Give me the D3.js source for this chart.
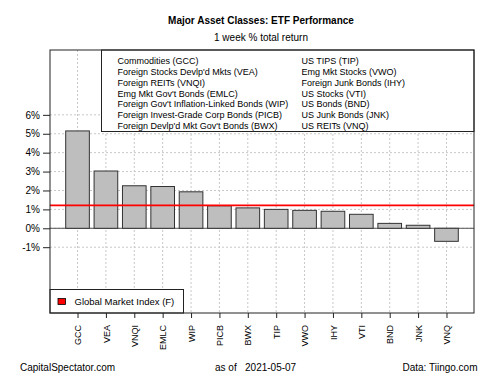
<!DOCTYPE html>
<html><head><meta charset="utf-8">
<script src="https://cdn.jsdelivr.net/npm/d3@7"></script>
<style>body{margin:0;background:#fff}svg{display:block}text{font-family:"Liberation Sans",Arial,sans-serif;fill:#000}</style>
</head><body>
<script>
const tickers = ["GCC","VEA","VNQI","EMLC","WIP","PICB","BWX","TIP","VWO","IHY","VTI","BND","JNK","VNQ"];
const returns = [5.15, 3.03, 2.25, 2.21, 1.93, 1.19, 1.08, 1.00, 0.95, 0.90, 0.74, 0.26, 0.16, -0.69];
const globalMarket = 1.21;
const yTicks = [-1, 0, 1, 2, 3, 4, 5, 6];
const legendLeft = ["Commodities (GCC)","Foreign Stocks Devlp'd Mkts (VEA)","Foreign REITs (VNQI)","Emg Mkt Gov't Bonds (EMLC)","Foreign Gov't Inflation-Linked Bonds (WIP)","Foreign Invest-Grade Corp Bonds (PICB)","Foreign Devlp'd Mkt Gov't Bonds (BWX)"];
const legendRight = ["US TIPS (TIP)","Emg Mkt Stocks (VWO)","Foreign Junk Bonds (IHY)","US Stocks (VTI)","US Bonds (BND)","US Junk Bonds (JNK)","US REITs (VNQ)"];

const W = 500, H = 375;
const L = 50, R = 474, T = 50, B = 313;
const svg = d3.select("body").append("svg").attr("width", W).attr("height", H);

const x = d3.scaleLinear().domain([-0.464, 17.464]).range([L, R]);
const y = d3.scaleLinear().domain([-4.48, 9.43]).range([B, T]);
const center = i => 0.7 + i * 1.2;

// grid
const g = svg.append("g");
g.selectAll(".hg").data(yTicks).join("line")
  .attr("x1", L).attr("x2", R).attr("y1", d => y(d)).attr("y2", d => y(d))
  .attr("stroke", "#c8c8c8").attr("stroke-dasharray", "2,2").attr("stroke-width", 1);
g.selectAll(".vg").data(tickers).join("line")
  .attr("x1", (d, i) => x(center(i))).attr("x2", (d, i) => x(center(i)))
  .attr("y1", T).attr("y2", B)
  .attr("stroke", "#c8c8c8").attr("stroke-dasharray", "2,2").attr("stroke-width", 1);

// zero line
svg.append("line").attr("x1", L).attr("x2", R).attr("y1", y(0)).attr("y2", y(0))
  .attr("stroke", "#555").attr("stroke-width", 1);

// bars
svg.selectAll(".bar").data(returns).join("rect")
  .attr("x", (d, i) => x(center(i) - 0.5))
  .attr("width", x(1) - x(0))
  .attr("y", d => y(Math.max(0, d)))
  .attr("height", d => Math.abs(y(d) - y(0)))
  .attr("fill", "#bebebe").attr("stroke", "#333").attr("stroke-width", 1);

// global market line
svg.append("line").attr("x1", L).attr("x2", R).attr("y1", y(globalMarket)).attr("y2", y(globalMarket))
  .attr("stroke", "#ff0000").attr("stroke-width", 1.6);

// top legend box
const lg = svg.append("g");
lg.append("rect").attr("x", 101.5).attr("y", T).attr("width", R - 101.5).attr("height", 81.5)
  .attr("fill", "#fff").attr("stroke", "#222").attr("stroke-width", 1);
lg.selectAll(".ll").data(legendLeft).join("text")
  .attr("x", 117.5).attr("y", (d, i) => 61 + i * 10.8).attr("dy", "0.35em")
  .attr("font-size", 9).text(d => d);
lg.selectAll(".lr").data(legendRight).join("text")
  .attr("x", 301.5).attr("y", (d, i) => 61 + i * 10.8).attr("dy", "0.35em")
  .attr("font-size", 9).text(d => d);

// bottom legend
svg.append("rect").attr("x", L).attr("y", 289.5).attr("width", 133.5).attr("height", B - 289.5)
  .attr("fill", "#fff").attr("stroke", "#222").attr("stroke-width", 1);
svg.append("rect").attr("x", 58).attr("y", 298.5).attr("width", 7.5).attr("height", 6)
  .attr("fill", "#ff0000").attr("stroke", "#000").attr("stroke-width", 0.8);
svg.append("text").attr("x", 74.5).attr("y", 302).attr("dy", "0.35em").attr("font-size", 9.5)
  .text("Global Market Index (F)");

// plot box
svg.append("rect").attr("x", L).attr("y", T).attr("width", R - L).attr("height", B - T)
  .attr("fill", "none").attr("stroke", "#222").attr("stroke-width", 1);

// y axis
const ya = svg.append("g").attr("transform", `translate(${L},0)`)
  .call(d3.axisLeft(y).tickValues(yTicks).tickSize(7).tickPadding(3).tickFormat(d => d + "%"));
ya.select(".domain").remove();
ya.selectAll("line").attr("stroke", "#222");
ya.selectAll("text").attr("font-size", 10).attr("font-family", "Liberation Sans, Arial, sans-serif");

// x axis
const xa = svg.append("g").attr("transform", `translate(0,${B})`)
  .call(d3.axisBottom(x).tickValues(tickers.map((d, i) => center(i))).tickSize(5).tickFormat((d, i) => tickers[i]));
xa.select(".domain").remove();
xa.selectAll("line").attr("stroke", "#222");
xa.selectAll("text").attr("font-size", 9).attr("font-family", "Liberation Sans, Arial, sans-serif")
  .attr("transform", "rotate(-90)").attr("text-anchor", "end")
  .attr("x", -12).attr("y", 0).attr("dy", "0.35em");

// titles
svg.append("text").attr("x", 261).attr("y", 20).attr("dy", "0.35em").attr("text-anchor", "middle")
  .attr("font-size", 10).attr("font-weight", "bold").text("Major Asset Classes: ETF Performance");
svg.append("text").attr("x", 261).attr("y", 37).attr("dy", "0.35em").attr("text-anchor", "middle")
  .attr("font-size", 10).text("1 week % total return");

// footer
svg.append("text").attr("x", 20).attr("y", 367.5).attr("dy", "0.35em").attr("font-size", 10).text("CapitalSpectator.com");
svg.append("text").attr("x", 215).attr("y", 367.5).attr("dy", "0.35em").attr("font-size", 10).attr("xml:space", "preserve").text("as of   2021-05-07");
svg.append("text").attr("x", 477.5).attr("y", 367.5).attr("dy", "0.35em").attr("text-anchor", "end").attr("font-size", 10).text("Data: Tiingo.com");
</script>
</body></html>
